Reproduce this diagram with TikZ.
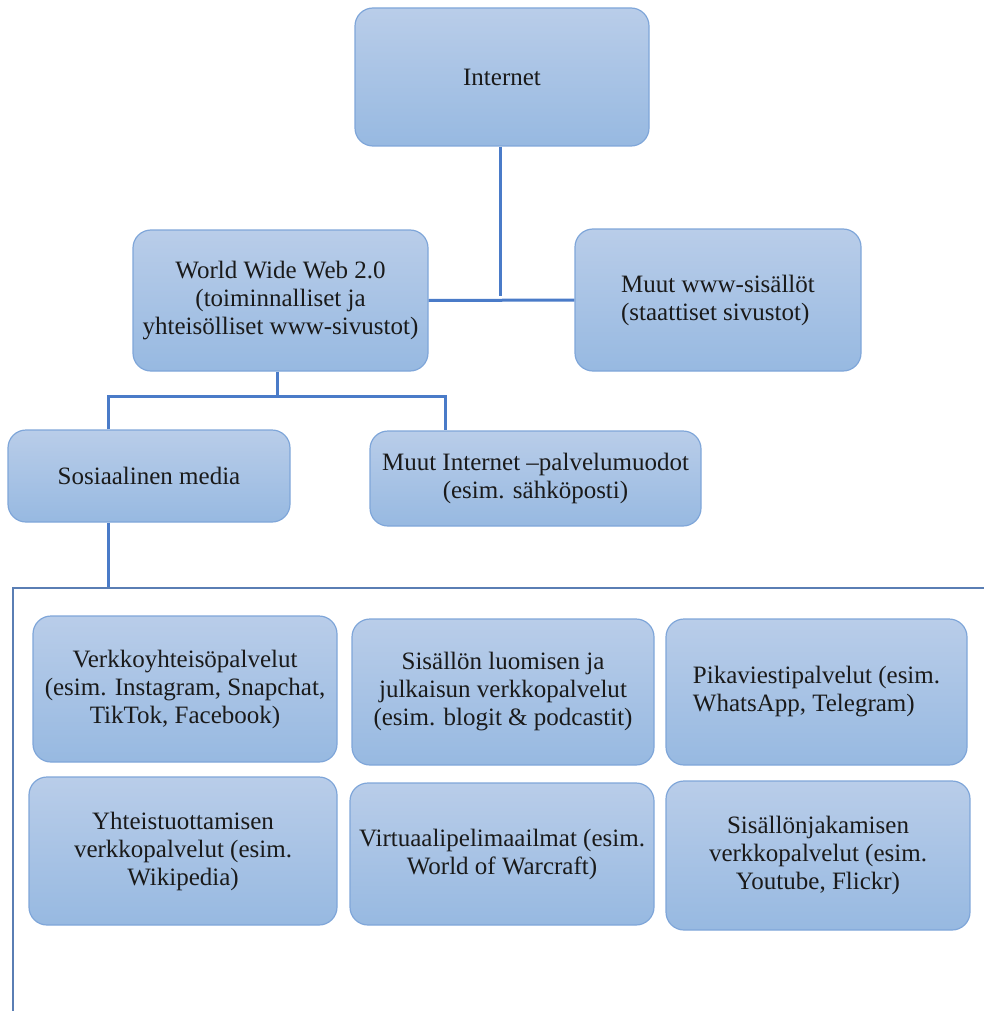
\documentclass[tikz,border=0pt]{standalone}
\usepackage{fontspec}
\setmainfont{Liberation Serif}
\definecolor{boxtop}{HTML}{B9CDE9}
\definecolor{boxbot}{HTML}{97B9E1}
\definecolor{boxline}{HTML}{7FA6D9}
\definecolor{connc}{HTML}{4A7BC8}
\definecolor{framec}{HTML}{5A7EB4}
\definecolor{txt}{HTML}{1A1A1A}
\tikzset{
  bx/.style={rounded corners=18pt, draw=boxline, line width=1.2pt,
    top color=boxtop, bottom color=boxbot, align=center, inner sep=0pt,
    text=txt, font=\fontsize{25}{28}\selectfont},
  conn/.style={draw=connc, line width=3pt},
  framel/.style={draw=framec, line width=1.4pt},
}
\begin{document}
\begin{tikzpicture}[x=1pt,y=-1pt]
\useasboundingbox (0,0) rectangle (984,1011);
\node[bx, minimum width=294pt, minimum height=138pt] (inet) at (502,77) {Internet};
\node[bx, minimum width=295pt, minimum height=141pt] (www) at (280.5,300.5) {World Wide Web 2.0\\(toiminnalliset ja\\yhteisölliset www-sivustot)};
\node[bx, align=left, minimum width=286pt, minimum height=142pt] (mw) at (718,300) {Muut www-sisällöt\\(staattiset sivustot)};
\node[bx, minimum width=282pt, minimum height=92pt] (sm) at (149,476) {Sosiaalinen media};
\node[bx, minimum width=331pt, minimum height=95pt] (mi) at (535.5,478.5) {Muut Internet –palvelumuodot\\(esim. sähköposti)};
\node[bx, minimum width=304pt, minimum height=146pt] (vy) at (185,689) {Verkkoyhteisöpalvelut\\(esim. Instagram, Snapchat,\\TikTok, Facebook)};
\node[bx, minimum width=302pt, minimum height=146pt] (sl) at (503,692) {Sisällön luomisen ja\\julkaisun verkkopalvelut\\(esim. blogit \& podcastit)};
\node[bx, align=left, minimum width=301pt, minimum height=146pt] (pv) at (816.5,692) {Pikaviestipalvelut (esim.\\WhatsApp, Telegram)};
\node[bx, minimum width=308pt, minimum height=148pt] (yt) at (183,851) {Yhteistuottamisen\\verkkopalvelut (esim.\\Wikipedia)};
\node[bx, minimum width=304pt, minimum height=142pt] (vp) at (502,854) {Virtuaalipelimaailmat (esim.\\World of Warcraft)};
\node[bx, minimum width=304pt, minimum height=149pt] (sj) at (818,855.5) {Sisällönjakamisen\\verkkopalvelut (esim.\\Youtube, Flickr)};
\coordinate (jA) at (108,396);
\coordinate (jB) at (445,396);
\coordinate (jC) at (277,396);
\coordinate (jD) at (500,296);
\coordinate (ftl) at (13,588);
\coordinate (ftr) at (984,588);
\coordinate (fbl) at (13,1011);
\draw[conn] (jD |- inet.south) -- (jD);
\draw[conn] (www.east) -- (mw.west);
\draw[conn] (jC |- www.south) -- (jC);
\draw[conn] (jA |- sm.north) -- (jA) -- (jB) -- (jB |- mi.north);
\draw[conn] (jA |- sm.south) -- (jA |- ftl);
\draw[framel] (fbl) -- (ftl) -- (ftr);
\end{tikzpicture}
\end{document}
